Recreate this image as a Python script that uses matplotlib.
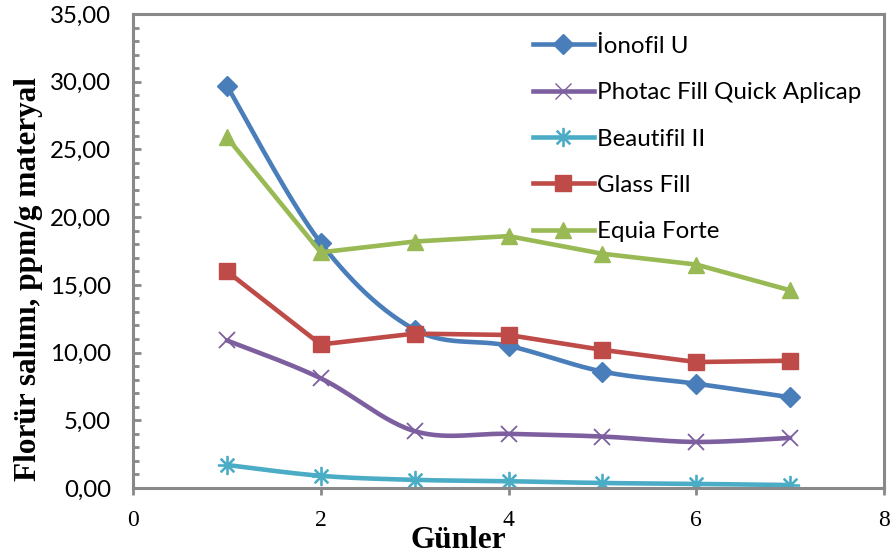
import numpy as np
import matplotlib.pyplot as plt
from matplotlib.ticker import MultipleLocator, FuncFormatter

# data
gunler = [1, 2, 3, 4, 5, 6, 7]
ionofil = [29.7, 18.1, 11.7, 10.5, 8.6, 7.7, 6.7]
photac = [10.9, 8.1, 4.2, 4.0, 3.8, 3.4, 3.7]
beautifil = [1.7, 0.9, 0.6, 0.5, 0.37, 0.3, 0.22]
glassfill = [16.0, 10.6, 11.4, 11.3, 10.2, 9.3, 9.4]
equia = [25.9, 17.4, 18.2, 18.6, 17.3, 16.5, 14.6]

names = ["İonofil U", "Photac Fill Quick Aplicap", "Beautifil II", "Glass Fill", "Equia Forte"]
series = [ionofil, photac, beautifil, glassfill, equia]
colors = ["#4A7EBB", "#7D5FA0", "#4BACC6", "#BE4B48", "#98B954"]
markers = ["D", "x", "$\u2733$", "s", "^"]
msizes = [10, 12, 13, 12, 12]
smoothed = [True, True, True, False, False]


def smooth(xs, ys, n=30):
    # Excel-like smoothed line (Catmull-Rom through the points)
    xs = np.asarray(xs, float)
    ys = np.asarray(ys, float)
    px = np.concatenate([[xs[0]], xs, [xs[-1]]])
    py = np.concatenate([[ys[0]], ys, [ys[-1]]])
    ox, oy = [], []
    t = np.linspace(0, 1, n)
    for i in range(1, len(px) - 2):
        p0, p1, p2, p3 = [np.array([px[j], py[j]]) for j in range(i - 1, i + 3)]
        c1 = p1 + (p2 - p0) / 6
        c2 = p2 - (p3 - p1) / 6
        b = ((1 - t) ** 3)[:, None] * p1 + (3 * (1 - t) ** 2 * t)[:, None] * c1 \
            + (3 * (1 - t) * t ** 2)[:, None] * c2 + (t ** 3)[:, None] * p2
        ox.extend(b[:, 0])
        oy.extend(b[:, 1])
    return ox, oy


fig = plt.figure(figsize=(8.96, 5.57), dpi=100)
ax = fig.add_axes([133 / 896, 1 - 488 / 557, (884 - 133) / 896, (488 - 14) / 557])

for name, ys, c, m, ms, sm in zip(names, series, colors, markers, msizes, smoothed):
    if sm:
        sx, sy = smooth(gunler, ys)
    else:
        sx, sy = gunler, ys
    ax.plot(sx, sy, color=c, linewidth=3.3, solid_capstyle="round", solid_joinstyle="round")
    ax.plot(gunler, ys, linestyle="none", marker=m, markersize=ms, color=c,
            markeredgewidth=1.3 if m == "x" else 1)
    ax.plot([], [], color=c, linewidth=3.3, marker=m, markersize=ms, label=name)

ax.set_xlim(0, 8)
ax.set_ylim(0, 35)
ax.xaxis.set_major_locator(MultipleLocator(2))
ax.yaxis.set_major_locator(MultipleLocator(5))
ax.yaxis.set_minor_locator(MultipleLocator(1))
ax.yaxis.set_major_formatter(FuncFormatter(lambda v, p: ("%.2f" % v).replace(".", ",")))

for s in ax.spines.values():
    s.set_color("#898989")
    s.set_linewidth(2.2)

ax.tick_params(axis="y", which="major", direction="in", length=6, width=2, color="#898989",
               labelsize=17.3, pad=16)
ax.tick_params(axis="y", which="minor", direction="in", length=4, width=2, color="#898989")
ax.tick_params(axis="x", which="major", direction="out", length=5, width=2, color="#898989",
               labelsize=17, pad=11)
for lbl in ax.get_yticklabels():
    lbl.set_family("Lato")
for lbl in ax.get_xticklabels():
    lbl.set_family("Liberation Serif")

ax.set_xlabel("Günler", family="Liberation Serif", fontweight="bold", fontsize=22.5)
ax.xaxis.set_label_coords(0.433, -0.08)
ax.set_ylabel("Florür salımı, ppm/g materyal", family="Liberation Serif", fontweight="bold",
              fontsize=22.5)
ax.yaxis.set_label_coords(-0.12, 0.44)

leg = ax.legend(loc="upper left", bbox_to_anchor=(0.504, 1.0), frameon=False,
                prop={"family": "Lato", "size": 17.4}, handlelength=2.5,
                labelspacing=1.05, handletextpad=0.15)

fig.savefig("out.png", dpi=100)
